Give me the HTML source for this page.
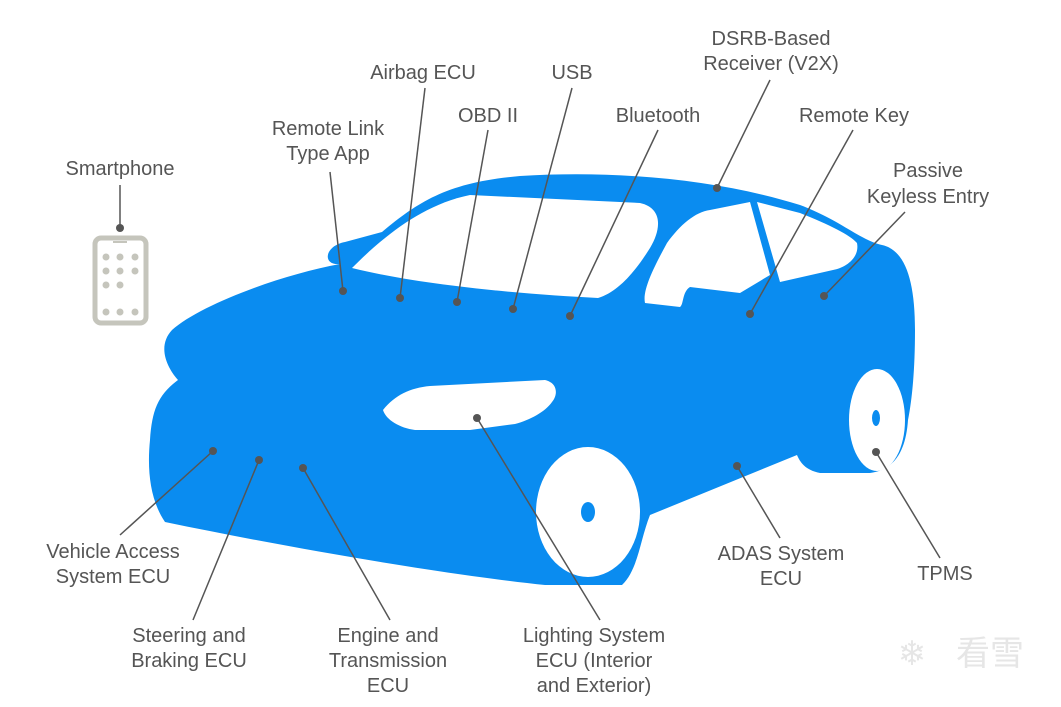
<!DOCTYPE html>
<html><head><meta charset="utf-8"><style>
html,body{margin:0;padding:0;background:#fff;}
svg{display:block;}
text{font-family:"Liberation Sans","Noto Sans CJK SC",sans-serif;font-size:20px;fill:#555;text-anchor:middle;}
</style></head><body>
<svg width="1061" height="707" viewBox="0 0 1061 707" xmlns="http://www.w3.org/2000/svg">
<!-- car body -->
<path fill="#0a8cf0" d="M340,264 C322,266 324,246 345,242 L382,232 C420,200 450,182 520,176 C620,170 720,180 800,205 C840,220 860,240 882,245 C905,250 915,280 915,330 C915,370 912,400 908,420 C906,450 895,470 870,473 L820,473 C805,470 800,462 797,455 L650,515 C640,540 638,570 622,585 L545,585 C450,575 300,550 165,522 C150,500 147,470 150,440 C152,410 158,395 178,380 C165,365 158,345 172,330 C200,305 280,275 340,264 Z"/>
<!-- front window -->
<path fill="#fff" d="M352,268 C380,240 420,205 470,195 L640,203 C662,208 662,228 650,248 C635,272 618,292 598,298 C520,294 420,285 352,268 Z"/>
<!-- rear door window -->
<path fill="#fff" d="M645,303 C642,290 655,265 667,243 C680,225 695,212 710,210 L750,202 L770,275 L740,293 L690,287 C682,292 684,304 680,307 Z"/>
<!-- rear window -->
<path fill="#fff" d="M757,202 L800,213 C830,225 850,235 857,243 C860,258 845,268 833,270 L780,282 Z"/>
<!-- headlight -->
<path fill="#fff" d="M383,410 C395,395 410,388 430,386 L545,380 C558,383 558,395 552,402 C545,412 530,420 515,424 L470,430 L415,430 C400,428 386,420 383,410 Z"/>
<!-- wheels -->
<ellipse cx="588" cy="512" rx="52" ry="65" fill="#fff"/>
<ellipse cx="588" cy="512" rx="7" ry="10" fill="#0a8cf0"/>
<ellipse cx="877" cy="420" rx="28" ry="51" fill="#fff"/>
<ellipse cx="876" cy="418" rx="4" ry="8" fill="#0a8cf0"/>
<!-- phone -->
<rect x="95" y="238" width="51" height="85" rx="6" fill="none" stroke="#c5c5bc" stroke-width="5"/>
<rect x="113" y="241" width="14" height="2" fill="#c5c5bc"/>
<g fill="#c5c5bc">
<circle cx="106" cy="257" r="3.5"/><circle cx="120" cy="257" r="3.5"/><circle cx="135" cy="257" r="3.5"/>
<circle cx="106" cy="271" r="3.5"/><circle cx="120" cy="271" r="3.5"/><circle cx="135" cy="271" r="3.5"/>
<circle cx="106" cy="285" r="3.5"/><circle cx="120" cy="285" r="3.5"/>
<circle cx="106" cy="312" r="3.5"/><circle cx="120" cy="312" r="3.5"/><circle cx="135" cy="312" r="3.5"/>
</g>
<!-- leader lines -->
<g stroke="#555" stroke-width="1.5" fill="none">
<line x1="120" y1="185" x2="120" y2="228"/>
<line x1="330" y1="172" x2="343" y2="291"/>
<line x1="425" y1="88" x2="400" y2="298"/>
<line x1="488" y1="130" x2="457" y2="302"/>
<line x1="572" y1="88" x2="513" y2="309"/>
<line x1="658" y1="130" x2="570" y2="316"/>
<line x1="770" y1="80" x2="717" y2="188"/>
<line x1="853" y1="130" x2="750" y2="314"/>
<line x1="905" y1="212" x2="824" y2="296"/>
<line x1="120" y1="535" x2="213" y2="451"/>
<line x1="193" y1="620" x2="259" y2="460"/>
<line x1="390" y1="620" x2="303" y2="468"/>
<line x1="600" y1="620" x2="477" y2="418"/>
<line x1="780" y1="538" x2="737" y2="466"/>
<line x1="940" y1="558" x2="876" y2="452"/>
</g>
<g fill="#555">
<circle cx="120" cy="228" r="4"/>
<circle cx="343" cy="291" r="4"/><circle cx="400" cy="298" r="4"/><circle cx="457" cy="302" r="4"/>
<circle cx="513" cy="309" r="4"/><circle cx="570" cy="316" r="4"/><circle cx="717" cy="188" r="4"/>
<circle cx="750" cy="314" r="4"/><circle cx="824" cy="296" r="4"/><circle cx="213" cy="451" r="4"/>
<circle cx="259" cy="460" r="4"/><circle cx="303" cy="468" r="4"/><circle cx="477" cy="418" r="4"/>
<circle cx="737" cy="466" r="4"/><circle cx="876" cy="452" r="4"/>
</g>
<!-- labels -->
<text x="120" y="175">Smartphone</text>
<text x="328" y="135">Remote Link</text><text x="328" y="160">Type App</text>
<text x="423" y="79">Airbag ECU</text>
<text x="488" y="122">OBD II</text>
<text x="572" y="79">USB</text>
<text x="658" y="122">Bluetooth</text>
<text x="771" y="45">DSRB-Based</text><text x="771" y="70">Receiver (V2X)</text>
<text x="854" y="122">Remote Key</text>
<text x="928" y="177">Passive</text><text x="928" y="203">Keyless Entry</text>
<text x="113" y="558">Vehicle Access</text><text x="113" y="583">System ECU</text>
<text x="189" y="642">Steering and</text><text x="189" y="667">Braking ECU</text>
<text x="388" y="642">Engine and</text><text x="388" y="667">Transmission</text><text x="388" y="692">ECU</text>
<text x="594" y="642">Lighting System</text><text x="594" y="667">ECU (Interior</text><text x="594" y="692">and Exterior)</text>
<text x="781" y="560">ADAS System</text><text x="781" y="585">ECU</text>
<text x="945" y="580">TPMS</text>
<text x="990" y="665" style="font-size:34px;fill:#e6e6e6">看雪</text>
<text x="912" y="665" style="font-size:34px;fill:#e6e6e6">❄</text>
</svg>
</body></html>
